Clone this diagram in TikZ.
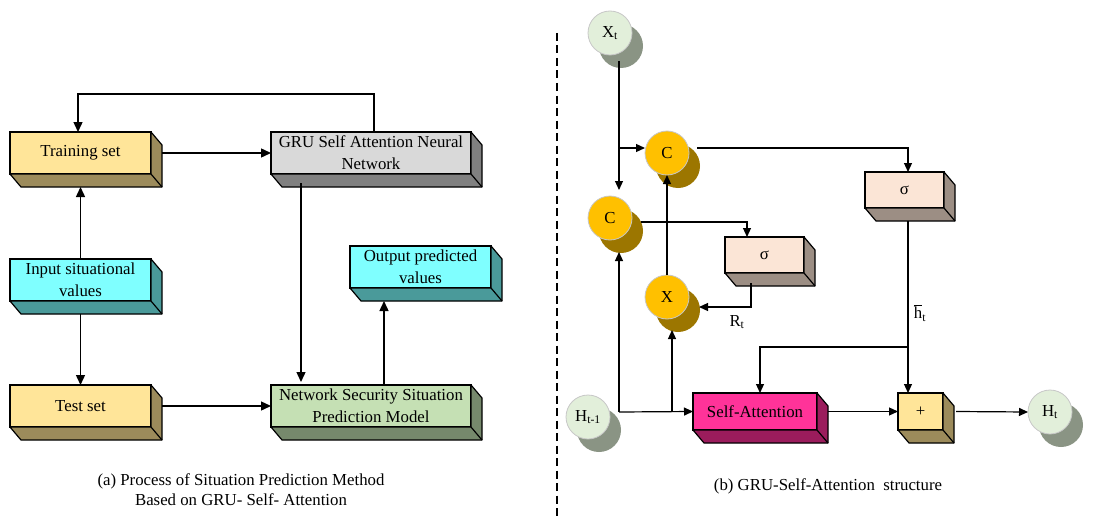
\documentclass[tikz,border=0pt]{standalone}
\usepackage{fontspec}
\setmainfont{Liberation Serif}
\usetikzlibrary{arrows.meta,calc,shadows}

\definecolor{sandF}{HTML}{FFE599}
\definecolor{sandS}{HTML}{9C8B5B}
\definecolor{greyF}{HTML}{D9D9D9}
\definecolor{greyS}{HTML}{808080}
\definecolor{cyanF}{HTML}{7FFFFF}
\definecolor{cyanS}{HTML}{4A9A9A}
\definecolor{sageF}{HTML}{C5E0B4}
\definecolor{sageS}{HTML}{76896C}
\definecolor{peachF}{HTML}{FBE5D6}
\definecolor{peachS}{HTML}{9C8E84}
\definecolor{pinkF}{HTML}{FF3399}
\definecolor{pinkS}{HTML}{9B1C5C}
\definecolor{mintF}{HTML}{E2EFDA}
\definecolor{mintS}{HTML}{8A9484}
\definecolor{goldF}{HTML}{FFC000}
\definecolor{goldS}{HTML}{9C7600}

\tikzset{
  x=1pt, y=-1pt,
  every node/.style={font=\fontsize{16.8}{22}\selectfont},
  slabface/.style={draw=black, line width=1.2pt, outer sep=0pt, inner sep=2pt, align=center},
  slabedge/.style={draw=black, line width=1.2pt, line join=round},
  arrA/.style={line width=1.4pt, -{Triangle[length=10pt,width=9pt]}},
  arrB/.style={line width=1.2pt, -{Triangle[length=9pt,width=8pt]}},
  gate/.style={circle, minimum size=44pt, inner sep=0pt, outer sep=0pt,
    draw=black!22, line width=0.8pt},
  mintgate/.style={gate, fill=mintF,
    drop shadow={shadow xshift=11pt, shadow yshift=-13pt, fill=mintS, opacity=1}},
  goldgate/.style={gate, fill=goldF,
    drop shadow={shadow xshift=11pt, shadow yshift=-13pt, fill=goldS, opacity=1}},
  caption/.style={align=center, font=\fontsize{16.8}{20}\selectfont},
}

% #1 name, #2 centre, #3 width, #4 height, #5 front colour, #6 side colour, #7 label
\newcommand{\slab}[7]{%
  \node[slabface, minimum width=#3pt, minimum height=#4pt, fill=#5] (#1) at #2 {#7};
  \filldraw[fill=#6, slabedge] (#1.north east) -- ++(11,13) -- ++(0,#4)
    -- ++(-#3,0) -- (#1.south west) -- (#1.south east) -- cycle;
  \draw[slabedge] (#1.south east) -- ++(11,13);
}

\begin{document}
\begin{tikzpicture}
\useasboundingbox (0,0) rectangle (1095,519);

% ---------- (a) process ----------
\slab{train}{(80.5,153)}{141}{42}{sandF}{sandS}{Training set}
\slab{gru}{(371,153)}{200}{42}{greyF}{greyS}{GRU Self Attention Neural\\Network}
\slab{input}{(80.5,280)}{141}{42}{cyanF}{cyanS}{Input situational\\values}
\slab{output}{(420.5,267)}{141}{42}{cyanF}{cyanS}{Output predicted\\values}
\slab{test}{(80.5,406)}{141}{42}{sandF}{sandS}{Test set}
\slab{model}{(371,406)}{200}{42}{sageF}{sageS}{Network Security Situation\\Prediction Model}

\draw[arrA] ([xshift=3pt]gru.north) -- ++(0,-38) -| ([xshift=-2.5pt]train.north);
\draw[arrA] ($(train.east)+(11,0)$) -- (gru.west);
\draw[arrA] (input.north) -- ($(train.south)+(0,13)$);
\draw[arrA] ($(input.south)+(0,13)$) -- (test.north);
\draw[arrA] ($(test.east)+(11,0)$) -- (model.west);
\draw[arrA] ($(gru.south)+(-70,9)$) -- ($(model.north)+(-70,-3)$);
\draw[arrA] ($(model.north)+(13,0)$) -- ($(output.south)+(-36.5,13)$);

\node[caption] (capa) at (241,490) {(a) Process of Situation Prediction Method\\Based on GRU- Self- Attention};

% separator
\draw[line width=1.2pt, dash pattern=on 8pt off 4.5pt] (557,33) -- (557,519);

% ---------- (b) structure ----------
\node[mintgate] (xt) at (610,33) {X\textsubscript{t}};
\node[goldgate] (c1) at (667,153) {C};
\node[goldgate] (c2) at (610,218) {C};
\node[goldgate] (xg) at (667,297) {X};
\node[mintgate] (hprev) at (588,417) {H\textsubscript{t-1}};
\node[mintgate] (ht) at (1050,412) {H\textsubscript{t}};

\slab{sig1}{(904.5,190)}{79}{36}{peachF}{peachS}{σ}
\slab{sig2}{(764.5,255)}{79}{36}{peachF}{peachS}{σ}
\slab{sa}{(755,411.5)}{124}{37}{pinkF}{pinkS}{Self-Attention}
\slab{plus}{(920.5,411.5)}{45}{37}{sandF}{sandS}{+}

\coordinate (xbr) at ($(xt.south)+(9,93)$);
\coordinate (hbr) at ($(hprev.east)+(9,-5)$);
\coordinate (hbar) at ($(sig1.south)+(3.5,139)$);

\draw[arrB] ($(xt.south)+(9,6)$) -- ($(c2.north)+(9,-6)$);
\draw[arrB] (xbr) -- (c1.west |- xbr);
\draw[arrB] ($(c1.east)+(8,-5)$) -| ($(sig1.north)+(3.5,0)$);
\draw[arrB] ($(c2.east)+(9,4)$) -| ($(sig2.north)+(-17.5,0)$);
\draw[arrB] ($(sig2.south)+(-13.5,10)$) |- ($(xg.east)+(10,10)$);
\draw[arrB] (xg.north) -- (c1.south);
\draw[arrB] (hbr) -- (sa.west);
\draw[arrB] (hbr) -- ($(c2.south)+(9,12)$);
\draw[arrB] ($(hbr)+(53,0)$) -- ($(xg.south)+(5,11)$);
\draw[arrB] ($(sig1.south)+(3.5,13)$) -- ($(plus.north)+(-12.5,0)$);
\draw[arrB] (hbar) -| ($(sa.north)+(5,0)$);
\draw[arrB] ($(sa.east)+(11,0)$) -- (plus.west);
\draw[arrB] ($(plus.east)+(13,0)$) -- (ht.west);

\node (rt) at (737,322) {R\textsubscript{t}};
\node (hlab) at (920,313) {$\overline{\mbox{h}}$\textsubscript{t}};

\node[caption] (capb) at (828,486) {(b) GRU-Self-Attention\ \ structure};
\end{tikzpicture}
\end{document}
